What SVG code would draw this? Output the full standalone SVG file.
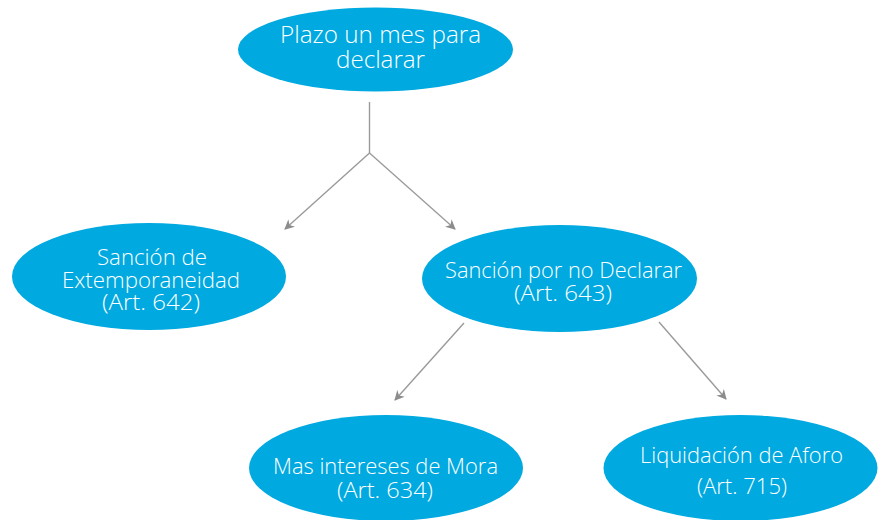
<svg xmlns="http://www.w3.org/2000/svg" width="879" height="520" viewBox="0 0 879 520">
<style>
.n{fill:#00A9E0;}
.t{fill:#ffffff;font-family:"Open Sans","Liberation Sans",sans-serif;font-weight:300;text-anchor:middle;}
.big{font-size:24px;}
.sm{font-size:22px;}
.c{stroke:#9a9a9a;stroke-width:1.4;fill:none;}
</style>
<defs>
<marker id="ah" viewBox="0 0 10 10" refX="9" refY="5" markerWidth="10" markerHeight="10" markerUnits="userSpaceOnUse" orient="auto">
<path d="M0,0 L10,5 L0,10 L3,5 z" fill="#8c8c8c"/>
</marker>
</defs>
<rect width="879" height="520" fill="#ffffff"/>
<g id="connectors">
<path class="c" d="M369.5,102 L369.5,153"/>
<path class="c" d="M369.5,153 L285,229" marker-end="url(#ah)"/>
<path class="c" d="M369.5,153 L455,229" marker-end="url(#ah)"/>
<path class="c" d="M464,323 L395,400" marker-end="url(#ah)"/>
<path class="c" d="M659,322 L726,399" marker-end="url(#ah)"/>
</g>
<g id="node-plazo">
<ellipse class="n" cx="375.5" cy="49.5" rx="137.5" ry="42"/>
<text class="t big" x="380.5" y="43" textLength="201" lengthAdjust="spacingAndGlyphs">Plazo un mes para</text>
<text class="t big" x="380.5" y="68" textLength="89" lengthAdjust="spacingAndGlyphs">declarar</text>
</g>
<g id="node-extemporaneidad">
<ellipse class="n" cx="149" cy="276.5" rx="137" ry="53.5"/>
<text class="t sm" x="152" y="265" textLength="110" lengthAdjust="spacingAndGlyphs">Sanción de</text>
<text class="t sm" x="151" y="288" textLength="178" lengthAdjust="spacingAndGlyphs">Extemporaneidad</text>
<text class="t sm" x="151" y="310" textLength="98" lengthAdjust="spacingAndGlyphs">(Art. 642)</text>
</g>
<g id="node-no-declarar">
<ellipse class="n" cx="559.5" cy="278.5" rx="137.5" ry="53.5"/>
<text class="t sm" x="563.5" y="278" textLength="237" lengthAdjust="spacingAndGlyphs">Sanción por no Declarar</text>
<text class="t sm" x="563" y="301" textLength="98" lengthAdjust="spacingAndGlyphs">(Art. 643)</text>
</g>
<g id="node-mora">
<ellipse class="n" cx="386" cy="468" rx="137" ry="53"/>
<text class="t sm" x="385.5" y="474" textLength="225" lengthAdjust="spacingAndGlyphs">Mas intereses de Mora</text>
<text class="t sm" x="385" y="498" textLength="96" lengthAdjust="spacingAndGlyphs">(Art. 634)</text>
</g>
<g id="node-aforo">
<ellipse class="n" cx="740.5" cy="468" rx="137" ry="53"/>
<text class="t sm" x="741.5" y="463" textLength="203" lengthAdjust="spacingAndGlyphs">Liquidación de Aforo</text>
<text class="t sm" x="742" y="494" textLength="90" lengthAdjust="spacingAndGlyphs">(Art. 715)</text>
</g>
</svg>
